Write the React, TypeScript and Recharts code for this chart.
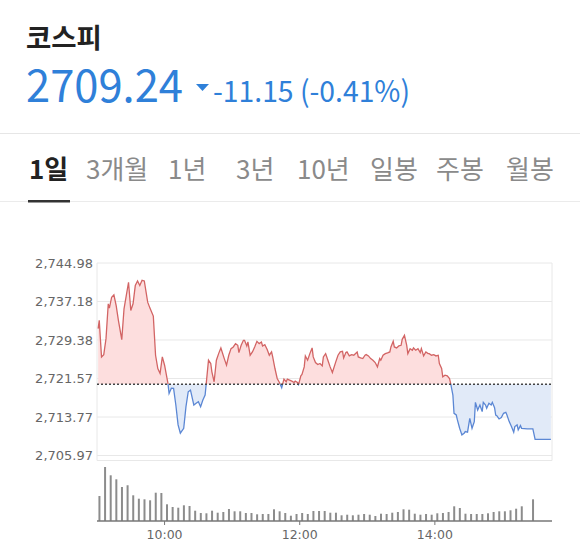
import { AreaChart, Area, BarChart, Bar, XAxis, YAxis, CartesianGrid, ReferenceLine } from 'recharts';

// 전일 종가 (점선 기준선)
const PREV_CLOSE = 2720.39;
const CURRENT = '2709.24';
const CHANGE = '-11.15 (-0.41%)';

const PRICE_TICKS = [2705.97, 2713.77, 2721.57, 2729.38, 2737.18, 2744.98];
// 09:00 기준 경과 분
const TIME_TICKS = [60, 180, 300];
const TIME_LABELS = ['10:00', '12:00', '14:00'];
const SESSION_END = 404;

const TABS = ['1일', '3개월', '1년', '3년', '10년', '일봉', '주봉', '월봉'];
const TAB_X = [29, 86, 168, 236, 297, 370, 436, 506];

// 분봉 종가 (09:00 이후 분, 지수)
const PRICE_MINUTES = [
  1, 2, 4, 6, 8, 10, 11, 13, 15, 17, 19, 22, 24, 28, 30, 32, 34, 36, 38, 40, 42, 45, 47, 50, 52, 54, 56, 58, 60, 63,
  64, 66, 68, 70, 72, 74, 77, 79, 81, 83, 86, 88, 90, 92, 94, 96, 97, 99, 101, 102, 104, 106, 108, 110, 113, 115, 117,
  119, 121, 123, 125, 126, 128, 130, 131, 133, 134, 136, 138, 140, 142, 144, 146, 147, 149, 151, 153, 155, 156, 158,
  160, 162, 164, 166, 168, 169, 171, 173, 175, 176, 178, 179, 181, 182, 184, 185, 187, 189, 191, 192, 194, 196, 198,
  200, 201, 203, 205, 207, 209, 212, 214, 216, 218, 219, 221, 222, 224, 226, 228, 231, 232, 234, 236, 238, 239, 241,
  243, 245, 247, 249, 251, 252, 254, 256, 258, 260, 261, 263, 264, 266, 268, 270, 271, 273, 275, 276, 278, 280, 281,
  283, 285, 287, 288, 290, 292, 294, 295, 297, 299, 301, 303, 304, 306, 307, 309, 311, 313, 314, 316, 317, 319, 320,
  322, 324, 326, 327, 329, 331, 333, 335, 336, 338, 340, 342, 343, 345, 346, 348, 350, 351, 353, 354, 355, 357, 359,
  361, 363, 364, 366, 368, 370, 371, 373, 374, 376, 377, 382, 387, 389, 403,
];
const PRICES = [
  2731.67, 2733.35, 2725.95, 2726.42, 2729.65, 2736.71, 2735.84, 2738.05, 2738.52, 2736.37, 2733.35, 2729.45, 2735.7,
  2741.08, 2735.36, 2736.71, 2740.41, 2741.35, 2740.41, 2741.48, 2741.35, 2737.05, 2735.84, 2734.22, 2726.29, 2723.6,
  2722.59, 2725.95, 2724.27, 2720.57, 2718.55, 2719.6, 2719.56, 2716.2, 2712.17, 2710.49, 2711.49, 2715.87, 2718.89,
  2719.23, 2716.2, 2716.54, 2716.87, 2715.87, 2717.21, 2718.22, 2720.57, 2725.28, 2724.61, 2722.93, 2720.91, 2725.28,
  2726.62, 2727.77, 2725.61, 2724.27, 2726.29, 2727.63, 2727.97, 2728.64, 2728.3, 2726.83, 2728.3, 2729.31, 2729.31,
  2728.17, 2728.98, 2726.29, 2726.96, 2727.97, 2729.11, 2728.64, 2728.98, 2728.17, 2728.44, 2727.5, 2726.29, 2726.96,
  2725.95, 2723.6, 2721.58, 2720.77, 2719.7, 2721.45, 2720.91, 2721.45, 2721.24, 2721.04, 2720.77, 2721.04, 2720.77,
  2720.37, 2722.12, 2722.39, 2723.93, 2726.15, 2725.28, 2726.62, 2727.77, 2725.95, 2724.81, 2724.4, 2724.61, 2724.14,
  2725.95, 2726.62, 2725.28, 2723.93, 2722.79, 2724.94, 2726.29, 2726.96, 2727.09, 2725.75, 2726.83, 2726.96, 2726.15,
  2726.42, 2726.29, 2726.96, 2725.95, 2725.75, 2725.61, 2726.29, 2726.42, 2726.15, 2725.61, 2725.28, 2724.81, 2723.93,
  2725.61, 2725.28, 2726.29, 2726.62, 2726.76, 2726.96, 2727.97, 2729.11, 2727.97, 2727.77, 2728.17, 2728.3, 2729.51,
  2730.32, 2728.3, 2726.62, 2727.63, 2727.3, 2727.77, 2727.3, 2727.63, 2726.83, 2727.63, 2726.15, 2726.96, 2726.62,
  2726.62, 2726.29, 2726.42, 2726.15, 2726.29, 2724.61, 2723.6, 2721.92, 2722.25, 2722.12, 2721.58, 2720.57, 2718.22,
  2714.52, 2714.18, 2713.18, 2711.49, 2710.15, 2710.49, 2710.82, 2710.69, 2713.51, 2711.49, 2712.84, 2716.74, 2715.19,
  2716.2, 2714.86, 2716.74, 2716.2, 2715.53, 2716.54, 2716.2, 2716.74, 2715.66, 2714.18, 2714.05, 2713.38, 2713.65,
  2714.52, 2714.72, 2714.18, 2712.84, 2711.83, 2710.69, 2711.83, 2712.17, 2711.16, 2712.03, 2711.49, 2711.36, 2711.36,
  2709.24, 2709.24,
];

// 5분 단위 거래량 (09:00부터, 15:20 동시호가 구간은 비어 있음)
const VOLUMES = [
  2500, 5400, 4570, 4170, 3400, 3570, 2570, 2230, 2170, 2070, 2830, 2800, 1670, 1400, 1330, 1570, 1500, 1030, 800, 770,
  1030, 830, 900, 1200, 970, 970, 800, 800, 670, 700, 700, 1170, 970, 800, 530, 700, 800, 700, 1000, 1000, 1000, 830,
  830, 570, 630, 570, 630, 700, 630, 500, 730, 700, 830, 900, 1170, 1130, 730, 630, 700, 630, 770, 800, 900, 1470, 1300,
  730, 700, 700, 700, 770, 900, 970, 970, 1070, 1230, 1470, null, 2170,
];

const priceRows = PRICE_MINUTES.map((m, i) => ({ m, price: PRICES[i] }));
const volumeRows = VOLUMES.map((v, i) => ({ m: i * 5 + 2, volume: v }));

const dataMax = Math.max(...PRICES);
const dataMin = Math.min(...PRICES);
const splitOffset = (dataMax - PREV_CLOSE) / (dataMax - dataMin);

const UP_LINE = '#d26464';
const DOWN_LINE = '#5b87d4';
const UP_FILL = '#fddede';
const DOWN_FILL = '#e1eaf8';
const BLUE = '#2f80d9';
const AXIS_FONT = 'DejaVu Sans';
const KR_FONT = '"Noto Sans CJK KR", sans-serif';

const formatPrice = (v: number) => v.toLocaleString('en-US', { minimumFractionDigits: 2, maximumFractionDigits: 2 });
const formatTime = (m: number) => TIME_LABELS[TIME_TICKS.indexOf(m)] ?? '';

function Header() {
  return (
    <svg width={580} height={250} style={{ position: 'absolute', left: 0, top: 0 }}>
      <text x={26} y={48} fontFamily={KR_FONT} fontSize={27.5} fontWeight={700} fill="#222">
        코스피
      </text>
      <text
        x={26}
        y={102}
        fontFamily={KR_FONT}
        fontSize={45}
        fill={BLUE}
        textLength={157}
        lengthAdjust="spacingAndGlyphs"
      >
        {CURRENT}
      </text>
      <polygon points="196,84 209,84 202.5,91" fill={BLUE} />
      <text
        x={213}
        y={102}
        fontFamily={KR_FONT}
        fontSize={29.5}
        fill={BLUE}
        textLength={197}
        lengthAdjust="spacingAndGlyphs"
      >
        {CHANGE}
      </text>
      <line x1={0} x2={580} y1={133.5} y2={133.5} stroke="#e6e6e6" />
      {TABS.map((t, i) => (
        <text
          key={t}
          x={TAB_X[i]}
          y={179}
          fontFamily={KR_FONT}
          fontSize={26}
          fontWeight={i === 0 ? 700 : 400}
          fill={i === 0 ? '#222' : '#8a8a8a'}
        >
          {t}
        </text>
      ))}
      <line x1={0} x2={580} y1={201.5} y2={201.5} stroke="#ebebeb" />
      <rect x={28} y={200} width={42} height={2.5} fill="#333" />
    </svg>
  );
}

export default function App() {
  return (
    <div style={{ position: 'absolute', left: 0, top: 0, width: 580, height: 557, background: '#fff' }}>
      <Header />
      <div style={{ position: 'absolute', left: 0, top: 250 }}>
        <AreaChart width={580} height={215} data={priceRows} margin={{ top: 13, right: 28, bottom: 4.5, left: 0 }}>
          <defs>
            <linearGradient id="priceStroke" x1="0" y1="0" x2="0" y2="1">
              <stop offset={splitOffset} stopColor={UP_LINE} />
              <stop offset={splitOffset} stopColor={DOWN_LINE} />
            </linearGradient>
            <linearGradient id="priceFill" x1="0" y1="0" x2="0" y2="1">
              <stop offset={splitOffset} stopColor={UP_FILL} />
              <stop offset={splitOffset} stopColor={DOWN_FILL} />
            </linearGradient>
          </defs>
          <CartesianGrid stroke="#e8e8e8" />
          <XAxis
            dataKey="m"
            type="number"
            domain={[0, SESSION_END]}
            ticks={TIME_TICKS}
            tick={false}
            tickLine={false}
            height={0}
            axisLine={{ stroke: '#6b6b6b', strokeWidth: 2 }}
          />
          <YAxis
            width={97}
            domain={[PRICE_TICKS[0] - 1.01, PRICE_TICKS[PRICE_TICKS.length - 1]]}
            ticks={PRICE_TICKS}
            interval={0}
            allowDataOverflow
            axisLine={false}
            tickLine={false}
            tickSize={0}
            tickMargin={4}
            tickFormatter={formatPrice}
            tick={{ fontSize: 13, fill: '#666', fontFamily: AXIS_FONT }}
          />
          <Area
            dataKey="price"
            type="linear"
            baseValue={PREV_CLOSE}
            stroke="url(#priceStroke)"
            strokeWidth={1.3}
            fill="url(#priceFill)"
            fillOpacity={1}
            dot={false}
            activeDot={false}
            isAnimationActive={false}
          />
          <ReferenceLine y={PREV_CLOSE} stroke="#444" strokeWidth={1.5} strokeDasharray="2 2" />
        </AreaChart>
      </div>
      <div style={{ position: 'absolute', left: 0, top: 460 }}>
        <BarChart width={580} height={95} data={volumeRows} margin={{ top: 5, right: 28, bottom: 0, left: 97 }}>
          <XAxis
            dataKey="m"
            type="number"
            domain={[0, SESSION_END]}
            ticks={TIME_TICKS}
            interval={0}
            tickFormatter={formatTime}
            height={34}
            tickSize={4}
            tickMargin={5}
            axisLine={{ stroke: '#777', strokeWidth: 1.5 }}
            tickLine={{ stroke: '#777' }}
            tick={{ fontSize: 12.5, fill: '#666', fontFamily: AXIS_FONT }}
          />
          <YAxis hide domain={[0, 5600]} />
          <Bar dataKey="volume" fill="#8c8c8c" barSize={2} isAnimationActive={false} />
        </BarChart>
      </div>
    </div>
  );
}
